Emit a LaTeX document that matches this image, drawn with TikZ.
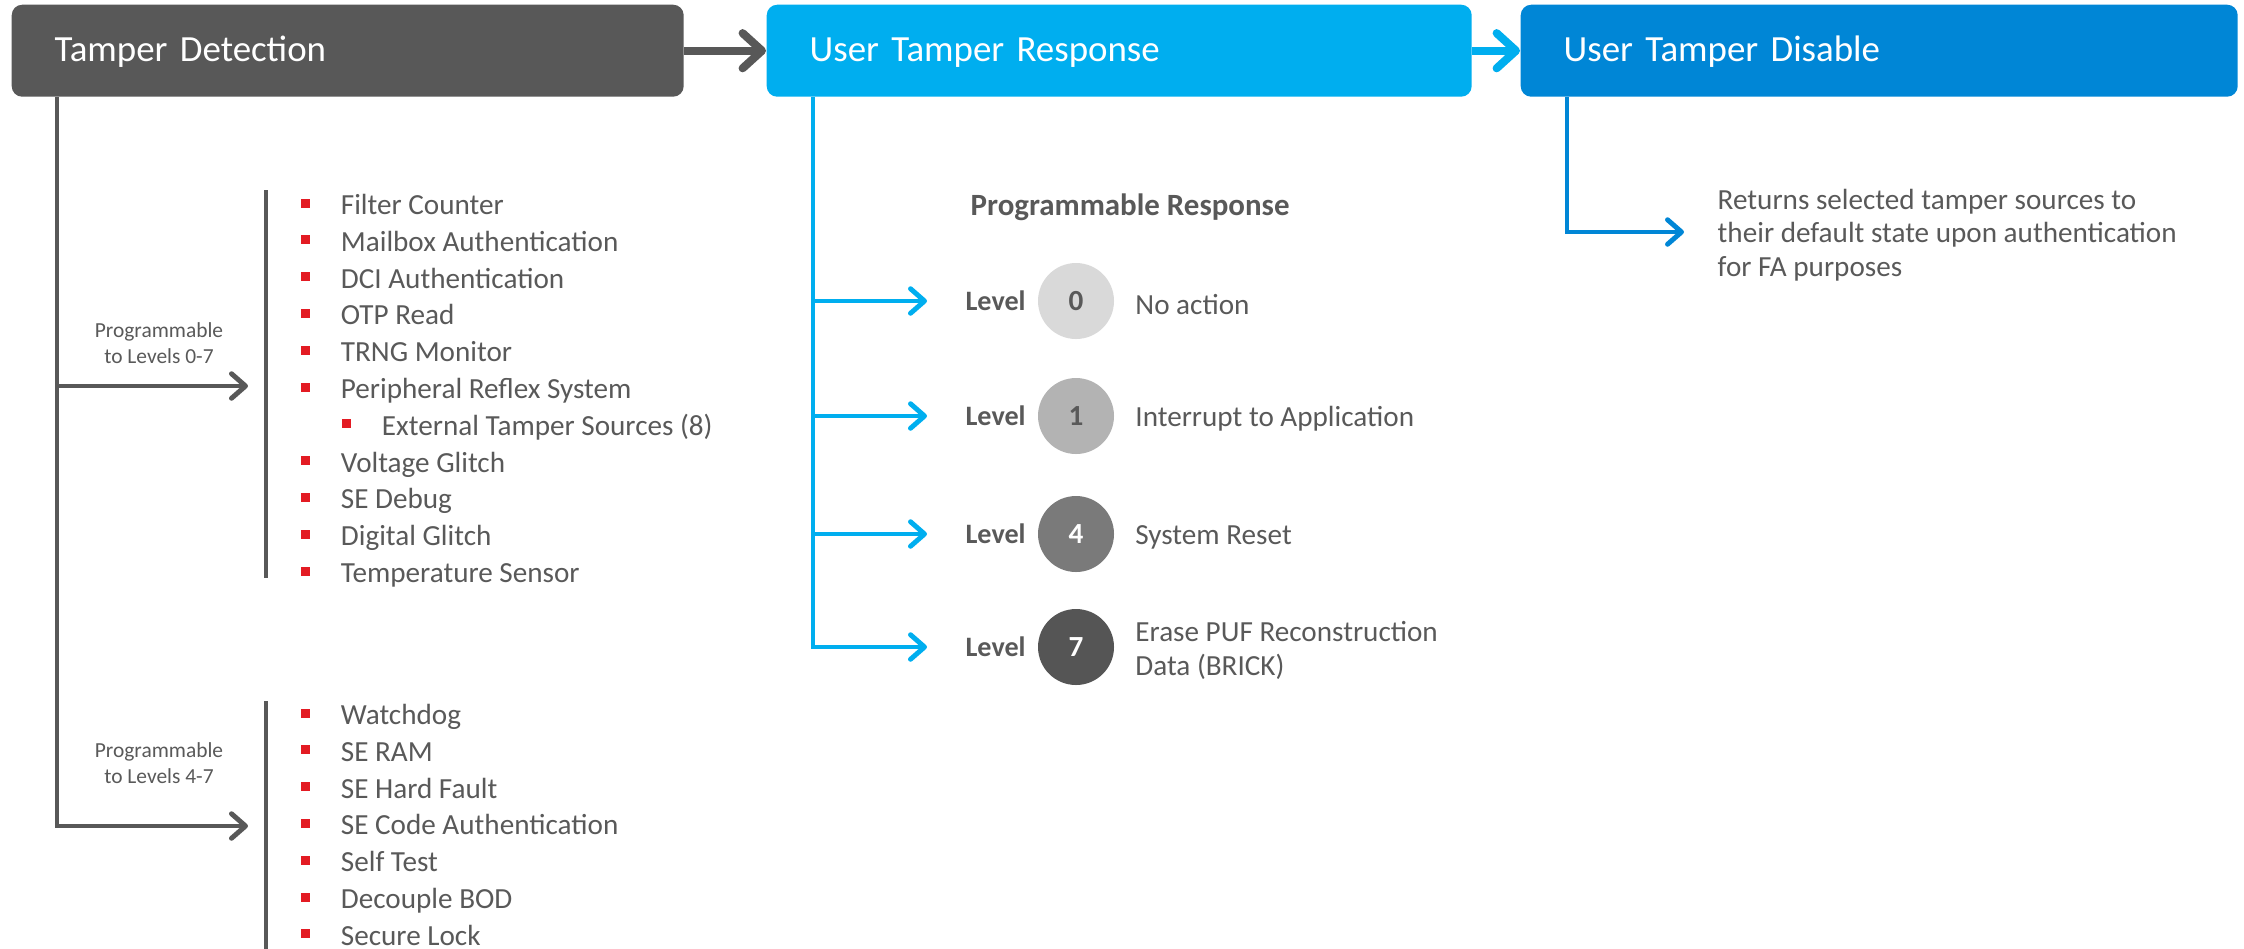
\documentclass[tikz,border=0pt]{standalone}
\usepackage{fontspec}
\setmainfont{Carlito}
\usepackage{xcolor}
\usepackage{tikz}
\usetikzlibrary{arrows.meta, positioning, calc}
\definecolor{detectfill}{RGB}{88,88,88}
\definecolor{responsefill}{RGB}{0,174,239}
\definecolor{disablefill}{RGB}{0,134,214}
\definecolor{textgray}{RGB}{89,89,89}
\definecolor{bulletred}{RGB}{227,27,35}
\definecolor{lvlzero}{RGB}{217,217,217}
\definecolor{lvlone}{RGB}{179,179,179}
\definecolor{lvlfour}{RGB}{122,122,122}
\definecolor{lvlseven}{RGB}{85,85,85}
\tikzset{
    header/.style={
        rectangle,
        rounded corners=3pt,
        anchor=north west,
        minimum height=0.92cm,
        inner xsep=0.43cm,
        inner ysep=0pt,
        text height=0.62em,
        text depth=0pt,
        text=white,
        font=\fontsize{10.5}{12}\selectfont
    },
    headlink/.style={
        line width=2.3pt,
        -{Straight Barb[length=5.5pt,width=10pt,round]}
    },
    branchlink/.style={
        line width=1.4pt,
        -{Straight Barb[length=4pt,width=7pt,round]}
    },
    barline/.style={
        draw=detectfill,
        line width=1.4pt
    },
    bulletsq/.style={
        rectangle,
        fill=bulletred,
        minimum size=0.09cm,
        inner sep=0pt
    },
    itemtext/.style={
        inner sep=0pt,
        text=textgray,
        text height=0.65em,
        text depth=0pt,
        font=\fontsize{8.3}{10}\selectfont
    },
    bodytext/.style={
        inner sep=0pt,
        yshift=-0.9pt,
        text=textgray,
        align=left,
        font=\fontsize{8.3}{9.6}\selectfont
    },
    smalllabel/.style={
        inner sep=0pt,
        text=textgray,
        align=center,
        font=\fontsize{6.1}{7.2}\selectfont
    },
    lvlcircle/.style={
        circle,
        minimum size=0.76cm,
        inner sep=0pt,
        font=\fontsize{8.3}{10}\selectfont\bfseries
    },
    lvltag/.style={
        inner sep=0pt,
        text=textgray,
        font=\fontsize{8}{10}\selectfont\bfseries
    }
}
\begin{document}
\begin{tikzpicture}[x=0.1mm, y=-0.1mm]
\useasboundingbox (0,0) rectangle (2244,948);

% Headers
\node[header, fill=detectfill, text width=5.86cm] (detect) at (11,4) {Tamper Detection};
\node[header, fill=responsefill, text width=6.19cm] (response) at (766,4) {User Tamper Response};
\node[header, fill=disablefill, text width=6.31cm] (disable) at (1520,4) {User Tamper Disable};

\draw[headlink, detectfill] (detect) -- (response);
\draw[headlink, responsefill] (response) -- (disable);

% Tamper detection branches
\coordinate (dtrunk) at ($(detect.south west)+(46,0)$);
\coordinate (tipA) at (248,386);
\coordinate (tipB) at (248,826);
\draw[branchlink, detectfill] (dtrunk) |- (tipA);
\draw[branchlink, detectfill] (dtrunk) |- (tipB);
\node[smalllabel] (progA) at (159,343) {Programmable\\to Levels 0-7};
\node[smalllabel] (progB) at (159,763) {Programmable\\to Levels 4-7};

\coordinate (barAtop) at (266,190);
\coordinate (barAbot) at (266,578);
\coordinate (barBtop) at (266,701);
\coordinate (barBbot) at (266,960);
\draw[barline] (barAtop) -- (barAbot);
\draw[barline] (barBtop) -- (barBbot);

% Sources, levels 0-7
\foreach \src/\ind [count=\i] in {Filter Counter/0, Mailbox Authentication/0, DCI Authentication/0, OTP Read/0, TRNG Monitor/0, Peripheral Reflex System/0, {External Tamper Sources (8)}/1, Voltage Glitch/0, SE Debug/0, Digital Glitch/0, Temperature Sensor/0} {
    \pgfmathsetmacro{\ypos}{203+36.8*(\i-1)}
    \pgfmathsetmacro{\xpos}{305+41*\ind}
    \node[bulletsq] (bulA\i) at (\xpos,\ypos) {};
    \node[itemtext, right=0.3cm of bulA\i] (itemA\i) {\src};
}

% Sources, levels 4-7
\foreach \src [count=\i] in {Watchdog, SE RAM, SE Hard Fault, SE Code Authentication, Self Test, Decouple BOD, Secure Lock} {
    \pgfmathsetmacro{\ypos}{713+36.8*(\i-1)}
    \node[bulletsq] (bulB\i) at (305,\ypos) {};
    \node[itemtext, right=0.3cm of bulB\i] (itemB\i) {\src};
}

% Response levels
\coordinate (rtrunk) at ($(response.south west)+(47,0)$);
\node[lvltag, anchor=west, yshift=-0.6pt, font=\fontsize{8.8}{10}\selectfont\bfseries] (progresp) at (970,205) {Programmable Response};
\foreach \lvl/\ypos/\shade/\digit/\desc in {0/301/lvlzero/textgray/No action, 1/416/lvlone/textgray/Interrupt to Application, 4/534/lvlfour/white/System Reset, 7/647/lvlseven/white/{Erase PUF Reconstruction\\Data (BRICK)}} {
    \node[lvlcircle, fill=\shade, text=\digit] (lvl\lvl) at (1076,\ypos) {\lvl};
    \node[lvltag, left=0.11cm of lvl\lvl] (tag\lvl) {Level};
    \node[bodytext, right=0.2cm of lvl\lvl] (desc\lvl) {\desc};
    \coordinate (rtip\lvl) at (927,\ypos);
    \draw[branchlink, responsefill] (rtrunk) |- (rtip\lvl);
}

% Disable
\coordinate (xtrunk) at ($(disable.south west)+(47,0)$);
\coordinate (xtip) at (1684,232);
\draw[branchlink, disablefill] (xtrunk) |- (xtip);
\node[bodytext, anchor=west] (disabletxt) at (1717,232) {Returns selected tamper sources to\\their default state upon authentication\\for FA purposes};

\end{tikzpicture}
\end{document}
